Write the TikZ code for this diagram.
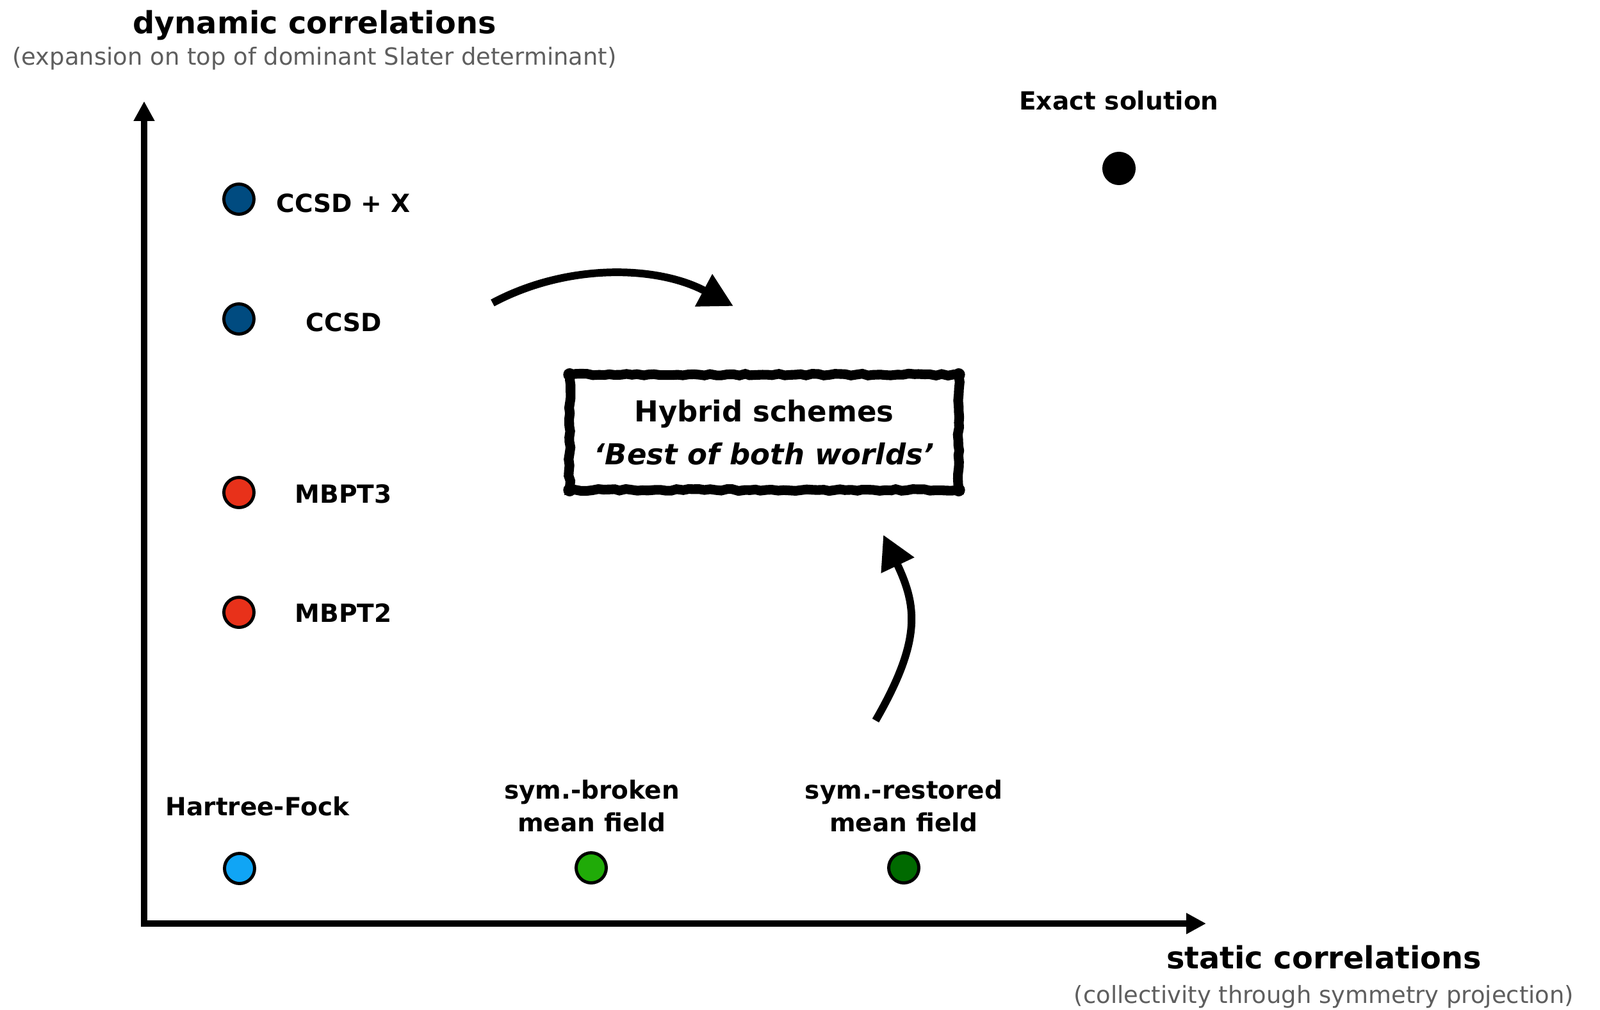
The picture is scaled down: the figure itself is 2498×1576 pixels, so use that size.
\documentclass[tikz,border=0pt]{standalone}
\usepackage{fontspec}
\setmainfont{DejaVu Sans}
\usetikzlibrary{arrows.meta,decorations.pathmorphing}
\definecolor{ccblue}{HTML}{004B80}
\definecolor{mbred}{HTML}{E8311A}
\definecolor{hfblue}{HTML}{10A5F5}
\definecolor{sbgreen}{HTML}{20AB08}
\definecolor{srgreen}{HTML}{006A00}
\definecolor{subgray}{HTML}{5E5E5E}
\begin{document}
\begin{tikzpicture}[x=0.01cm,y=-0.01cm,
  lbl/.style={font=\bfseries\fontsize{11.1}{13}\selectfont, anchor=base, inner sep=0},
  ttl/.style={font=\bfseries\fontsize{13.6}{16}\selectfont, anchor=base, inner sep=0},
  subttl/.style={font=\fontsize{10.5}{12}\selectfont, text=subgray, anchor=base, inner sep=0},
  dot/.style={circle, draw=black, line width=1.4pt, minimum size=0.47cm, inner sep=0},
  axisline/.style={line width=2.85pt, line join=miter},
  bendarrow/.style={line width=3.4pt, -{Triangle[length=15pt,width=15.4pt]}},
  hybrid/.style={draw, line width=4.3pt, minimum width=6.07cm, minimum height=1.80cm,
    outer sep=0pt,
    decorate, decoration={random steps,segment length=2.5pt,amplitude=0.45pt},
    align=center, inner sep=0, font=\bfseries\fontsize{12.8}{19}\selectfont}
]
\useasboundingbox (0,0) rectangle (2498,1576);

% axes
\coordinate (O) at (225,1442);
\coordinate (xtip) at (1883,1442);
\coordinate (ytip) at (225,158);
\draw[axisline, {Triangle[length=8.8pt,width=8.8pt]}-{Triangle[length=8.8pt,width=8.8pt]}] (xtip) -- (O) -- (ytip);

% axis titles
\node[ttl] (ytitle) at (491,53) {dynamic correlations};
\node[subttl] (ysub) at (491,102) {(expansion on top of dominant Slater determinant)};
\node[ttl] (xtitle) at (2067,1512) {static correlations};
\node[subttl] (xsub) at (2067,1566) {(collectivity through symmetry projection)};

% exact solution
\node[circle, fill=black, minimum size=0.52cm, inner sep=0] (exact) at (1747,263) {};
\node[lbl] (exactl) at (1747,172) {Exact solution};

% left column
\node[dot, fill=ccblue] (ccsdx) at (373,311) {};
\node[lbl, anchor=base west] (ccsdxl) at (431,331) {CCSD + X};
\node[dot, fill=ccblue] (ccsd) at (373,498) {};
\node[lbl] (ccsdl) at (537,517) {CCSD};
\node[dot, fill=mbred] (mb3) at (373,769) {};
\node[lbl] (mb3l) at (536,785) {MBPT3};
\node[dot, fill=mbred] (mb2) at (373,956) {};
\node[lbl] (mb2l) at (536,971) {MBPT2};

% bottom row
\node[dot, fill=hfblue] (hf) at (374,1356) {};
\node[lbl] (hfl) at (402,1273) {Hartree-Fock};
\node[dot, fill=sbgreen] (sb) at (923,1355) {};
\node[lbl] (sbl1) at (924,1247) {sym.-broken};
\node[lbl] (sbl2) at (924,1298) {mean field};
\node[dot, fill=srgreen] (sr) at (1411,1355) {};
\node[lbl] (srl1) at (1411,1247) {sym.-restored};
\node[lbl] (srl2) at (1411,1298) {mean field};

% hybrid box
\node[hybrid] (hyb) at (1193,675) {Hybrid schemes\\\textit{‘Best of both worlds’}};
\fill (hyb.north west) circle (10);
\fill (hyb.north east) circle (10);
\fill (hyb.south west) circle (10);
\fill (hyb.south east) circle (10);

% curved arrows
\coordinate (a1s) at (769,473);
\coordinate (a1e) at (1145,478);
\draw[bendarrow] (a1s) .. controls (887,410) and (1027,415) .. (a1e);
\coordinate (a2s) at (1367,1125);
\coordinate (a2e) at (1379,835);
\draw[bendarrow] (a2s) .. controls (1439,1000) and (1432,947) .. (a2e);
\end{tikzpicture}
\end{document}
